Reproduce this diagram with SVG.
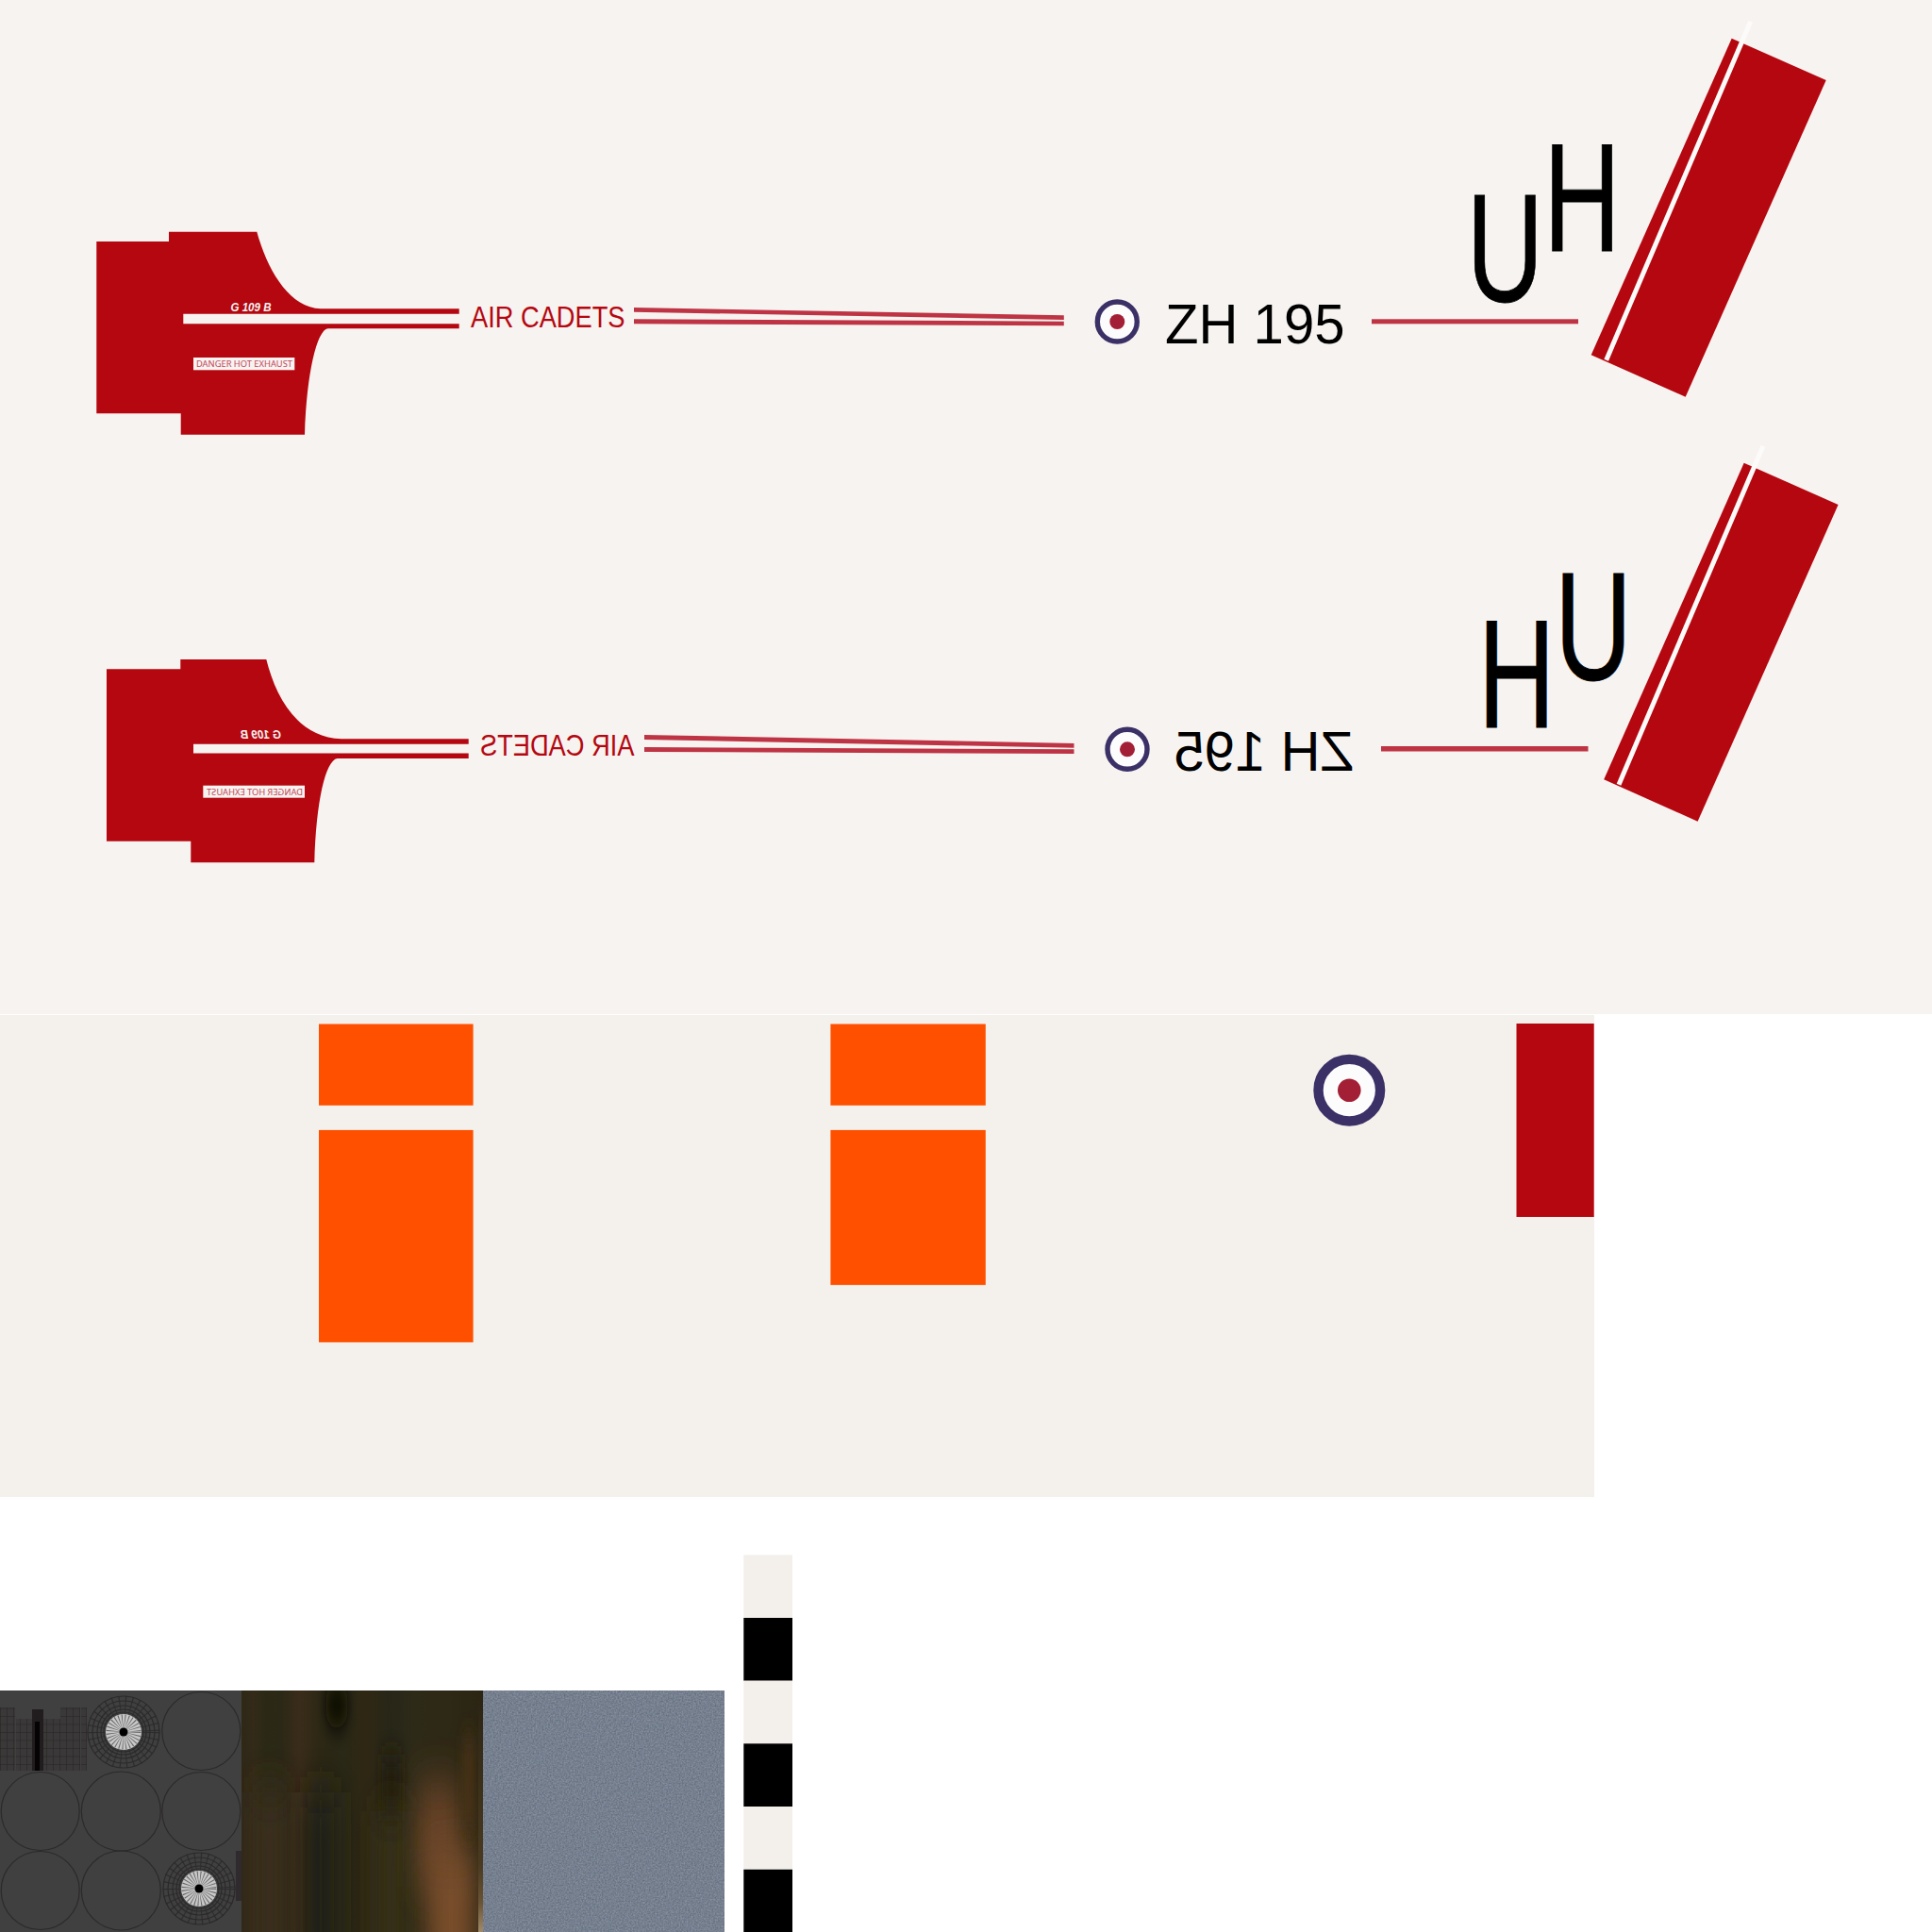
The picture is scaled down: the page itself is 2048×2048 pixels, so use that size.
<svg xmlns="http://www.w3.org/2000/svg" width="2048" height="2048" viewBox="0 0 2048 2048">
<style>
.red{fill:#b50710}
.stripe{fill:#be3444}
.org{fill:#ff5000}
.big{font-family:"Liberation Sans",Arial,sans-serif;font-size:164px;fill:#000;stroke:#000;stroke-width:.8}
.reg{font-family:"Liberation Sans",Arial,sans-serif;font-size:60px;fill:#000}
.air{font-family:"Liberation Sans",Arial,sans-serif;font-size:31.5px;fill:#b50710}
.gno{font-family:"Liberation Sans",Arial,sans-serif;font-size:13px;font-weight:bold;font-style:italic;fill:#f6f3f0}
.dng{font-family:"Noto Sans","Liberation Sans",sans-serif;font-size:9.2px;fill:#c4475a}
.wire{fill:none;stroke:#2c2929;stroke-width:1.2}
.wired{fill:none;stroke:#2c2929;stroke-width:19;stroke-dasharray:1 5;opacity:.85}
</style>
<defs>
<linearGradient id="wood" x1="0" y1="0" x2="1" y2="0">
<stop offset="0" stop-color="#2f2817"/><stop offset=".05" stop-color="#332a18"/><stop offset=".1" stop-color="#2b2916"/><stop offset=".17" stop-color="#2c2817"/><stop offset=".24" stop-color="#3b2c1a"/><stop offset=".32" stop-color="#2d2815"/><stop offset=".42" stop-color="#2a2816"/><stop offset=".52" stop-color="#2f2714"/><stop offset=".62" stop-color="#272718"/><stop offset=".72" stop-color="#2e2a18"/><stop offset=".85" stop-color="#2e2816"/><stop offset="1" stop-color="#2a2514"/>
</linearGradient>
<linearGradient id="edge" x1="0" y1="0" x2="0" y2="1">
<stop offset="0" stop-color="#2b2413"/><stop offset=".72" stop-color="#4a3a20"/><stop offset=".88" stop-color="#6a5434"/><stop offset="1" stop-color="#a08a68"/>
</linearGradient>
<filter id="b14" x="-80%" y="-50%" width="260%" height="200%"><feGaussianBlur stdDeviation="12 24"/></filter>
<filter id="b6" x="-80%" y="-50%" width="260%" height="200%"><feGaussianBlur stdDeviation="5 14"/></filter>
<filter id="noise" x="0" y="0" width="1" height="1" color-interpolation-filters="sRGB">
<feTurbulence type="fractalNoise" baseFrequency="0.6" numOctaves="2" seed="4"/>
<feColorMatrix values="0 0 0 .22 0  0 0 0 .22 0  0 0 0 .22 0  0 0 0 0 1"/>
<feColorMatrix values="1 0 0 0 .35  0 1 0 0 .39  0 0 1 0 .45  0 0 0 1 0"/>
</filter>
<pattern id="grid" width="7" height="8.5" patternUnits="userSpaceOnUse">
<path d="M0 0H7M0 0V8.5" fill="none" stroke="#252222" stroke-width="1"/>
</pattern>
<clipPath id="woodClip"><rect x="256" y="1792" width="256" height="256"/></clipPath>
<clipPath id="atlasClip"><rect x="0" y="1792" width="256" height="256"/></clipPath>
</defs>

<rect width="2048" height="2048" fill="#fff"/>
<rect id="panel-top" x="0" y="0" width="2048" height="1075" fill="#f6f3f0"/>
<rect id="panel-mid" x="0" y="1076" width="1690" height="511" fill="#f4f1ec"/>

<g id="livery-left">
<path class="red" d="M102.3,256 H179 V245.7 H272.3 C283,285 306,326 340,327.3 H486.7 V332.7 H194.3 V343.3 H486.7 V348.3 H347.5 C336,350 325,395 323,460.7 H191.7 V438.3 H102.3 Z"/>
<text class="gno" x="244.5" y="330" textLength="43" lengthAdjust="spacingAndGlyphs">G 109 B</text>
<rect x="205" y="379" width="107.3" height="13.3" fill="#f6f3f0"/>
<text class="dng" x="208" y="389" textLength="102" lengthAdjust="spacingAndGlyphs">DANGER HOT EXHAUST</text>
<text class="air" x="499" y="346.5" textLength="163.5" lengthAdjust="spacingAndGlyphs">AIR CADETS</text>
<polygon class="stripe" points="672,326 1127.8,334.3 1127.8,339 672,330.7"/>
<polygon class="stripe" points="672,338.3 1127.8,340.7 1127.8,345.3 672,343.3"/>
<circle cx="1184.3" cy="341" r="21" fill="#fdfcfd" stroke="#3c3166" stroke-width="5.4"/>
<circle cx="1184.3" cy="341" r="8" fill="#a31f36"/>
<text class="reg" x="1235" y="364" textLength="190.5" lengthAdjust="spacingAndGlyphs">ZH 195</text>
<rect class="stripe" x="1454" y="338.3" width="219" height="5"/>
<text class="big" transform="translate(1554.5,318.5) scale(.69,1)">U</text>
<text class="big" transform="translate(1636.2,266.3) scale(.69,1)">H</text>
<polygon class="red" points="1835.7,40.7 1935.7,85 1786.7,420.7 1686.7,376.3"/>
<line x1="1855.7" y1="22.7" x2="1702.7" y2="381.7" stroke="#fdfbfa" stroke-width="5"/>
</g>

<g id="livery-right">
<path class="red" d="M113,709.3 H191.3 V699 H282.3 C292,738 315,782 362,783.3 H496.7 V788.7 H205 V798.5 H496.7 V804 H357.5 C345,806 335,850 333.3,914.3 H202.3 V891.7 H113 Z"/>
<text class="gno" transform="translate(298,783.3) scale(-1,1)" textLength="43" lengthAdjust="spacingAndGlyphs">G 109 B</text>
<rect x="215.3" y="832.7" width="107.7" height="13" fill="#f6f3f0"/>
<text class="dng" transform="translate(321,842.7) scale(-1,1)" textLength="102" lengthAdjust="spacingAndGlyphs">DANGER HOT EXHAUST</text>
<text class="air" transform="translate(672.5,800.5) scale(-1,1)" textLength="163.5" lengthAdjust="spacingAndGlyphs">AIR CADETS</text>
<polygon class="stripe" points="683,779 1138.5,788 1138.5,792.7 683,784"/>
<polygon class="stripe" points="683,792 1138.5,794.3 1138.5,799 683,797"/>
<circle cx="1195" cy="794.3" r="21" fill="#fdfcfd" stroke="#3c3166" stroke-width="5.4"/>
<circle cx="1195" cy="794.3" r="8" fill="#a31f36"/>
<text class="reg" transform="translate(1435,817) scale(-1,1)" textLength="190.5" lengthAdjust="spacingAndGlyphs">ZH 195</text>
<rect class="stripe" x="1464" y="791" width="219.5" height="5.5"/>
<text class="big" transform="translate(1648.5,771) scale(-.69,1)">H</text>
<text class="big" transform="translate(1729.7,720) scale(-.69,1)">U</text>
<polygon class="red" points="1848.7,490.7 1948.6,535 1799.6,870.7 1700.2,826.3"/>
<line x1="1869" y1="472.7" x2="1716" y2="831.7" stroke="#fdfbfa" stroke-width="5"/>
</g>

<g id="panel-details">
<rect class="org" x="338" y="1085.5" width="163.6" height="86.3"/>
<rect class="org" x="338" y="1197.9" width="163.6" height="225"/>
<rect class="org" x="880.4" y="1085.5" width="164.4" height="86.3"/>
<rect class="org" x="880.4" y="1197.9" width="164.4" height="164.2"/>
<circle cx="1430.3" cy="1155.7" r="32.8" fill="#fdfcfd" stroke="#3c3166" stroke-width="10.4"/>
<circle cx="1430.3" cy="1155.7" r="12.3" fill="#a31f36"/>
<rect class="red" x="1607.5" y="1085" width="82.2" height="205"/>
</g>

<g id="checker-strip">
<rect x="788.3" y="1648.3" width="51.7" height="66.7" fill="#f3f0eb"/>
<rect x="788.3" y="1715" width="51.7" height="66.7" fill="#000"/>
<rect x="788.3" y="1781.7" width="51.7" height="66.6" fill="#f3f0eb"/>
<rect x="788.3" y="1848.3" width="51.7" height="66.7" fill="#000"/>
<rect x="788.3" y="1915" width="51.7" height="66.7" fill="#f3f0eb"/>
<rect x="788.3" y="1981.7" width="51.7" height="66.3" fill="#000"/>
</g>

<g id="texture-atlas" clip-path="url(#atlasClip)">
<rect x="0" y="1792" width="256" height="256" fill="#404040"/>
<g fill="#3a3838">
<rect x="0" y="1810" width="16" height="67"/><rect x="17" y="1822" width="17" height="55"/><rect x="46" y="1822" width="18" height="55"/><rect x="64" y="1810" width="21" height="67"/><rect x="86" y="1810" width="6" height="67"/>
</g>
<g fill="url(#grid)">
<rect x="0" y="1810" width="16" height="67"/><rect x="17" y="1822" width="17" height="55"/><rect x="46" y="1822" width="18" height="55"/><rect x="64" y="1810" width="21" height="67"/><rect x="86" y="1810" width="6" height="67"/>
</g>
<rect x="34" y="1812" width="12" height="65" fill="#211c1d"/>
<rect x="37" y="1825" width="5" height="52" fill="#050304"/>
<rect x="250" y="1962" width="6" height="53" fill="#2f2a2e"/>
<g class="wire">
<circle cx="213.3" cy="1835" r="41.5"/><circle cx="42.7" cy="1920" r="41.5"/><circle cx="128.3" cy="1920" r="42"/><circle cx="213.3" cy="1920" r="41.5"/><circle cx="42.7" cy="2004" r="41.5"/><circle cx="128.3" cy="2004" r="42"/>
<circle cx="131" cy="1836" r="38"/><circle cx="131" cy="1836" r="33"/><circle cx="131" cy="1836" r="28"/><circle cx="131" cy="1836" r="24"/><circle cx="131" cy="1836" r="21"/>
<circle cx="211" cy="2002" r="38"/><circle cx="211" cy="2002" r="33"/><circle cx="211" cy="2002" r="28"/><circle cx="211" cy="2002" r="24"/><circle cx="211" cy="2002" r="21"/>
</g>
<circle class="wired" cx="131" cy="1836" r="29"/>
<circle class="wired" cx="211" cy="2002" r="29"/>
<circle cx="131" cy="1836" r="19" fill="#c8c8c8"/>
<circle cx="211" cy="2002" r="19" fill="#c8c8c8"/>
<circle cx="131" cy="1836" r="11" fill="none" stroke="#666" stroke-width="15" stroke-dasharray=".7 1.8"/>
<circle cx="211" cy="2002" r="11" fill="none" stroke="#666" stroke-width="15" stroke-dasharray=".7 1.8"/>
<circle cx="131" cy="1836" r="4.5" fill="#000"/>
<circle cx="211" cy="2002" r="4.5" fill="#000"/>
</g>

<g id="texture-wood" clip-path="url(#woodClip)">
<rect x="256" y="1792" width="256" height="256" fill="url(#wood)"/>
<ellipse cx="357" cy="1808" rx="13" ry="24" fill="#0a0705" filter="url(#b6)"/>
<rect x="405" y="1860" width="20" height="70" fill="#221f10" filter="url(#b6)"/>
<rect x="322" y="1900" width="36" height="240" fill="#242114" filter="url(#b14)"/>
<rect x="268" y="1900" width="36" height="240" fill="#3a2e1a" filter="url(#b14)"/>
<rect x="400" y="1920" width="30" height="220" fill="#383018" filter="url(#b14)"/>
<rect x="442" y="1890" width="46" height="110" fill="#664326" filter="url(#b14)"/>
<rect x="453" y="1960" width="50" height="180" fill="#784e2a" filter="url(#b14)"/>
<rect x="491" y="1840" width="12" height="100" fill="#473317" filter="url(#b6)"/>
<rect x="507" y="1792" width="5" height="256" fill="url(#edge)"/>
</g>

<g id="texture-noise">
<rect x="512" y="1792" width="256" height="256" filter="url(#noise)"/>
</g>
</svg>
